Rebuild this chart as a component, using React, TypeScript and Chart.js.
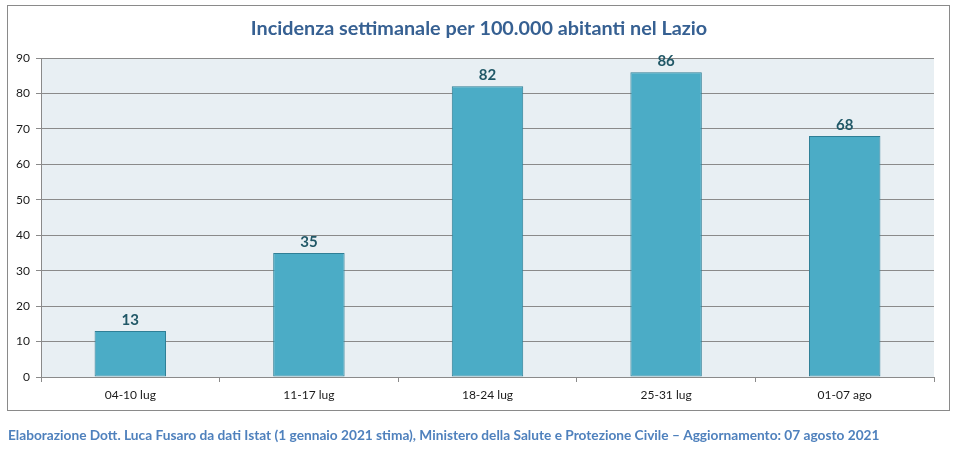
import React, { useEffect, useRef } from "react";
import { Chart, registerables } from "chart.js";

Chart.register(...registerables);

const categories = ["04-10 lug", "11-17 lug", "18-24 lug", "25-31 lug", "01-07 ago"];
const values = [13, 35, 82, 86, 68];
const titleText = "Incidenza settimanale per 100.000 abitanti nel Lazio";
const footerText =
  "Elaborazione Dott. Luca Fusaro da dati Istat (1 gennaio 2021 stima), Ministero della Salute e Protezione Civile \u2013 Aggiornamento: 07 agosto 2021";

const FONT = "Lato, 'Open Sans', sans-serif";

const decorPlugin = {
  id: "decor",
  beforeDraw(chart: any) {
    const { ctx, chartArea } = chart;
    ctx.save();
    ctx.fillStyle = "#ffffff";
    ctx.fillRect(0, 0, chart.width, chart.height);
    ctx.fillStyle = "#e8eff3";
    ctx.fillRect(chartArea.left, chartArea.top, chartArea.right - chartArea.left, chartArea.bottom - chartArea.top);
    ctx.strokeStyle = "#8a8a8a";
    ctx.lineWidth = 1;
    ctx.strokeRect(7.5, 5.5, 942, 405);
    ctx.restore();
  },
  afterDraw(chart: any) {
    const { ctx } = chart;
    ctx.save();
    ctx.fillStyle = "#366092";
    ctx.font = `bold 19.8px ${FONT}`;
    ctx.textAlign = "center";
    ctx.textBaseline = "middle";
    ctx.fillText(titleText, 479, 29);
    ctx.fillStyle = "#4f81bd";
    ctx.font = `bold 13.7px ${FONT}`;
    ctx.textAlign = "left";
    ctx.fillText(footerText, 8, 436);
    const meta = chart.getDatasetMeta(0);
    ctx.fillStyle = "#215867";
    ctx.font = `bold 15px ${FONT}`;
    ctx.textAlign = "center";
    ctx.textBaseline = "middle";
    meta.data.forEach((bar: any, i: number) => {
      ctx.fillText(String(values[i]), bar.x, bar.y - 11);
    });
    ctx.restore();
  },
};

export default function App() {
  const ref = useRef<HTMLCanvasElement | null>(null);
  useEffect(() => {
    if (!ref.current) return;
    const chart = new Chart(ref.current, {
      type: "bar",
      data: {
        labels: categories,
        datasets: [
          {
            data: values,
            backgroundColor: "#4bacc6",
            borderColor: "#2f7f96",
            borderWidth: 1,
            borderSkipped: false,
            barPercentage: 0.4,
            categoryPercentage: 1,
          },
        ],
      },
      options: {
        animation: false,
        responsive: false,
        maintainAspectRatio: false,
        layout: { padding: { left: 0, right: 26, top: 58, bottom: 42 } },
        plugins: { legend: { display: false }, tooltip: { enabled: false }, title: { display: false } },
        scales: {
          x: {
            afterFit: (s: any) => {
              s.height = 30;
            },
            grid: { drawOnChartArea: false, tickLength: 5, color: "#8a8a8a", offset: true },
            border: { color: "#8a8a8a" },
            ticks: { color: "#1a1a1a", font: { family: FONT, size: 12 }, padding: 6 },
          },
          y: {
            min: 0,
            max: 90,
            afterFit: (s: any) => {
              s.width = 41;
            },
            grid: { color: "#8a8a8a", tickLength: 5 },
            border: { color: "#8a8a8a" },
            ticks: { stepSize: 10, color: "#1a1a1a", font: { family: FONT, size: 12 }, padding: 6 },
          },
        },
      },
      plugins: [decorPlugin],
    });
    return () => chart.destroy();
  }, []);
  return (
    <div style={{ position: "fixed", left: 0, top: 0, width: 960, height: 449 }}>
      <canvas ref={ref} width={960} height={449} style={{ width: 960, height: 449, display: "block" }} />
    </div>
  );
}
